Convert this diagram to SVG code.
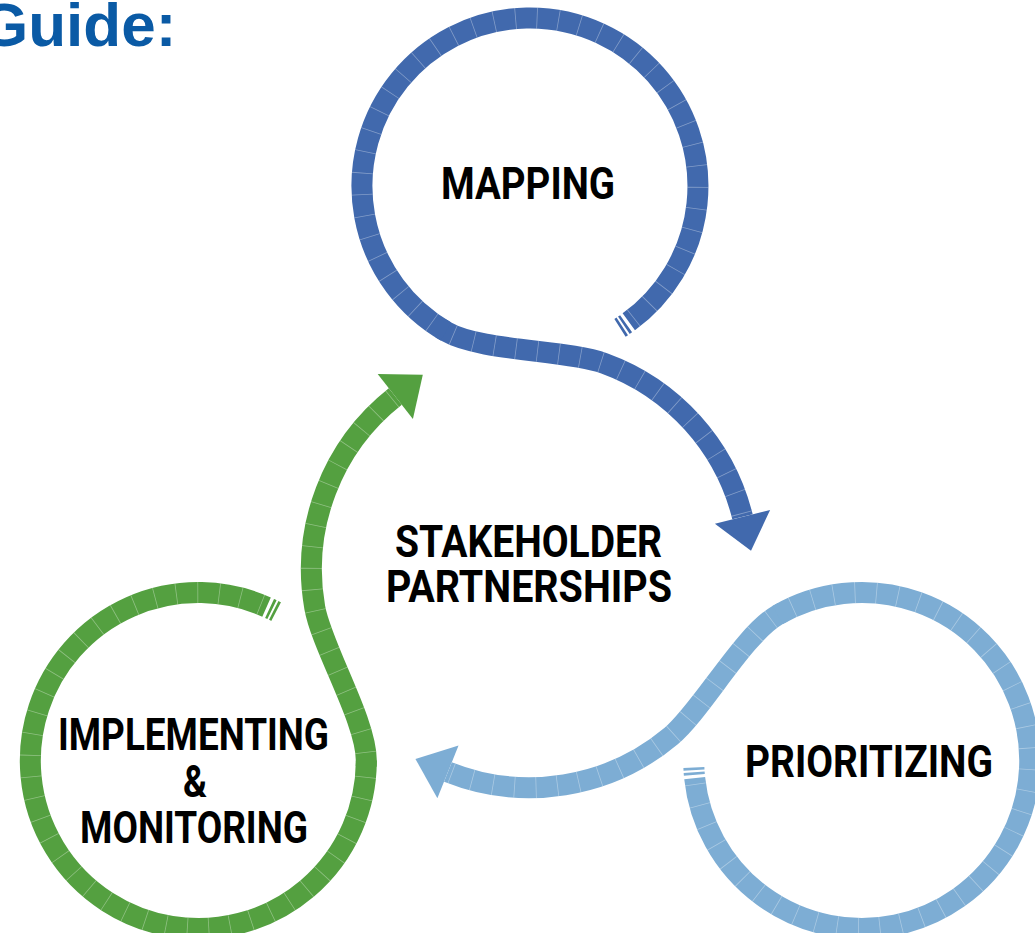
<svg xmlns="http://www.w3.org/2000/svg" width="1035" height="933" viewBox="0 0 1035 933">
<style>
.ring{fill:none;stroke-width:21;stroke-linecap:butt}
.seg{fill:none;stroke:#ffffff;stroke-opacity:.35;stroke-width:21;stroke-dasharray:0.8 20.7}
.blue{stroke:#4169AD}
.lblue{stroke:#7DADD4}
.green{stroke:#54A040}
.bars{stroke-dasharray:2.7 2 2.7 3.3 5000}
.lbl{font-family:Roboto,"Liberation Sans",sans-serif;font-weight:700;font-size:44px;fill:#000;text-anchor:middle}
.title{font-family:"Liberation Sans",Arial,sans-serif;font-weight:700;font-size:62px;fill:#0A5AA5}
</style>
<defs>
<path id="ringPath" d="M 620.0,327.8 A 168 168 0 1 0 446,331.5"/>
<path id="connA" d="M 441.0,328.5 A 168 168 0 0 0 446,331.5 C 480.6,351.5 566.6,349.6 604.2,363.3 A 220 220 0 0 1 742.5,516.8"/>
<path id="connB" d="M 441.0,328.5 A 168 168 0 0 0 446,331.5 C 480.6,351.5 566.6,349.6 604.2,363.3 A 220 220 0 0 1 746.75,538.6"/>
</defs>
<rect width="1035" height="933" fill="#ffffff"/>
<text class="title" x="-20" y="46">Guide:</text>

<g id="connectors">
  <g id="conn-mapping-prioritizing">
    <use href="#connA" class="ring blue"/>
    <use href="#connA" class="seg" stroke-dashoffset="8"/>
    <polygon points="714.9,523.7 770.1,509.9 751.0,550.8" fill="#4169AD"/>
  </g>
  <g id="conn-prioritizing-implementing" transform="rotate(120 530 569)">
    <use href="#connB" class="ring lblue"/>
    <use href="#connB" class="seg" stroke-dashoffset="8"/>
    <polygon points="718.54,542.66 774.96,534.54 751.74,573.24" fill="#7DADD4"/>
  </g>
  <g id="conn-implementing-mapping" transform="rotate(240 530 569)">
    <use href="#connB" class="ring green"/>
    <use href="#connB" class="seg" stroke-dashoffset="8"/>
    <polygon points="718.54,542.66 774.96,534.54 751.74,573.24" fill="#54A040"/>
  </g>
</g>

<g id="node-mapping">
  <use href="#ringPath" class="ring blue bars"/>
  <use href="#ringPath" class="seg" stroke-dashoffset="5"/>
  <text class="lbl" x="528" y="199" textLength="174" lengthAdjust="spacingAndGlyphs">MAPPING</text>
</g>
<g id="node-prioritizing">
  <use href="#ringPath" class="ring lblue bars" transform="rotate(120 530 569)"/>
  <use href="#ringPath" class="seg" stroke-dashoffset="5" transform="rotate(120 530 569)"/>
  <text class="lbl" x="869" y="777" textLength="248" lengthAdjust="spacingAndGlyphs">PRIORITIZING</text>
</g>
<g id="node-implementing">
  <use href="#ringPath" class="ring green bars" transform="rotate(240 530 569)"/>
  <use href="#ringPath" class="seg" stroke-dashoffset="5" transform="rotate(240 530 569)"/>
  <text class="lbl" x="193.5" y="750" textLength="271" lengthAdjust="spacingAndGlyphs">IMPLEMENTING</text>
  <text class="lbl" x="195" y="797" textLength="24" lengthAdjust="spacingAndGlyphs">&amp;</text>
  <text class="lbl" x="194" y="843" textLength="228" lengthAdjust="spacingAndGlyphs">MONITORING</text>
</g>
<g id="node-center">
  <text class="lbl" x="528.5" y="557" textLength="267" lengthAdjust="spacingAndGlyphs">STAKEHOLDER</text>
  <text class="lbl" x="529" y="602" textLength="286" lengthAdjust="spacingAndGlyphs">PARTNERSHIPS</text>
</g>
</svg>
